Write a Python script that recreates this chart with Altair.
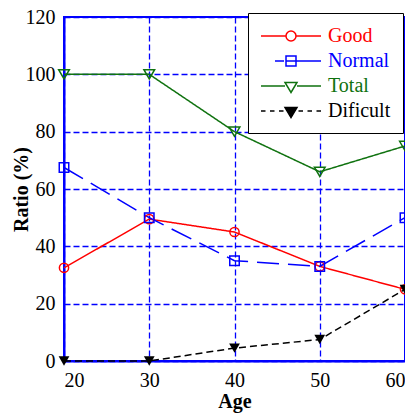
import altair as alt
import pandas as pd

# ---- data ----
ages = [20, 30, 40, 50, 60]
good = [32.5, 49.5, 45, 33, 25]
normal = [67.5, 50, 35, 33, 50]
total = [100, 100, 80, 66, 75]
dificult = [0, 0, 4.5, 7.5, 25]

series_names = ["Good", "Normal", "Total", "Dificult"]
x_ticks = [20, 30, 40, 50, 60]
y_ticks = [0, 20, 40, 60, 80, 100, 120]

# ---- styles ----
colors = {"Good": "#ff0000", "Normal": "#0000ff", "Total": "#0f720f", "Dificult": "#000000"}
dashes = {"Good": [1, 0], "Normal": [22, 9], "Total": [1, 0], "Dificult": [7, 4]}
shapes = {"Good": "circle", "Normal": "square", "Total": "triangle-down", "Dificult": "triangle-down"}
sizes = {"Good": 85, "Normal": 90, "Total": 115, "Dificult": 115}
filled = {"Good": False, "Normal": False, "Total": False, "Dificult": True}

# legend symbols: line segment(s) plus marker, as custom paths (1 unit = 10 px)
legend_paths = {
    "Good": "M-1,0H1.5M2.5,0H5M2.5,0A0.5,0.5 0 1,1 1.5,0A0.5,0.5 0 1,1 2.5,0Z",
    "Normal": "M0.4,0H1.3M1.5,0H5M1.5,-0.5H2.5V0.5H1.5Z",
    "Total": "M-1,0H1.4M2.6,0H5M1.4,-0.35H2.6L2,0.65Z",
    "Dificult": "M-1,0H-0.55M-0.1,0H0.35M0.8,0H1.25M2.75,0H3.2M3.65,0H4.1M4.55,0H5M1.4,-0.35H2.6L2,0.65Z",
}
legend_fills = {"Good": "white", "Normal": "white", "Total": "white", "Dificult": "black"}

rows = []
for name, vals in zip(series_names, [good, normal, total, dificult]):
    for a, v in zip(ages, vals):
        rows.append({"series": name, "age": a, "ratio": v})
df = pd.DataFrame(rows)

x_enc = alt.X("age:Q", scale=alt.Scale(domain=[20, 60], nice=False),
              axis=alt.Axis(values=x_ticks, format="d", title="Age", labelPadding=9,
                            titlePadding=1))
y_enc = alt.Y("ratio:Q", scale=alt.Scale(domain=[0, 120], nice=False),
              axis=alt.Axis(values=y_ticks, title="Ratio (%)", titleX=-43, titleY=172,
                            titleBaseline="middle", titleAlign="center", titleAngle=270))

layers = []
for name in series_names:
    base = alt.Chart(df).transform_filter(alt.datum.series == name)
    layers.append(base.mark_line(color=colors[name], strokeWidth=1.5,
                                 strokeDash=dashes[name]).encode(x=x_enc, y=y_enc))
for name in series_names:
    base = alt.Chart(df).transform_filter(alt.datum.series == name)
    layers.append(base.mark_point(shape=shapes[name], size=sizes[name], color=colors[name],
                                  filled=filled[name], opacity=1, strokeWidth=1.5)
                  .encode(x=x_enc, y=y_enc))

label_expr = ("datum.label == 'Good' ? '%s' : datum.label == 'Normal' ? '%s' : "
              "datum.label == 'Total' ? '%s' : '%s'") % (
    colors["Good"], colors["Normal"], colors["Total"], colors["Dificult"])

leg = alt.Legend(title=None, orient="none", legendX=184, legendY=-4,
                 symbolSize=400, symbolStrokeWidth=1.5, labelFont="Liberation Serif",
                 labelFontSize=20, labelColor={"expr": label_expr}, labelOffset=46,
                 padding=12, rowPadding=4, strokeColor="black", fillColor="white")

legend_layer = alt.Chart(df).transform_filter("false").mark_point(
    filled=True, opacity=1, strokeWidth=1.5).encode(
    x=x_enc, y=y_enc,
    stroke=alt.Stroke("series:N", scale=alt.Scale(domain=series_names,
                      range=[colors[n] for n in series_names]), legend=leg),
    fill=alt.Fill("series:N", scale=alt.Scale(domain=series_names,
                  range=[legend_fills[n] for n in series_names]), legend=leg),
    shape=alt.Shape("series:N", scale=alt.Scale(domain=series_names,
                    range=[legend_paths[n] for n in series_names]), legend=leg),
)
layers.append(legend_layer)

chart = alt.layer(*layers).properties(
    width=341, height=344,
    autosize=alt.AutoSizeParams(type="none"),
    padding={"left": 56, "top": 9, "right": 0, "bottom": 55},
).configure_view(stroke="#0000ff", strokeWidth=2).configure_axis(
    domainColor="#0000ff", domainWidth=2,
    grid=True, gridColor="#0000ff", gridDash=[6, 3], gridWidth=1.3, gridOpacity=1,
    ticks=False, labelPadding=9,
    labelFont="Liberation Serif", labelFontSize=20, labelColor="black",
    titleFont="Liberation Serif", titleFontSize=20, titleFontWeight="bold", titleColor="black",
)

chart.save("out.html", embed_options={"renderer": "svg", "actions": False})
